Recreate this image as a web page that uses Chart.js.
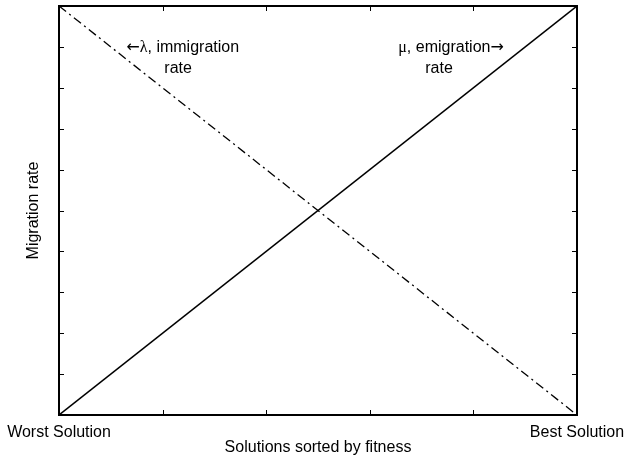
<!DOCTYPE html>
<html>
<head>
<meta charset="utf-8">
<script src="https://cdn.jsdelivr.net/npm/chart.js@4.4.1/dist/chart.umd.min.js"></script>
<style>
  html, body { margin: 0; padding: 0; background: #ffffff; }
  #wrap { width: 626px; height: 456px; }
</style>
</head>
<body>
<div id="wrap"><canvas id="c" width="626" height="456"></canvas></div>
<script>
// Solutions ranked from worst (0) to best (1)
const fitnessRank = [0, 1];
// Emigration rate grows with fitness, immigration rate falls
const emigrationRate = [0, 1];
const immigrationRate = [1, 0];
// Tick positions along each axis
const xTickValues = [0, 0.2, 0.4, 0.6, 0.8, 1];
const yTickValues = [0, 0.1, 0.2, 0.3, 0.4, 0.5, 0.6, 0.7, 0.8, 0.9, 1];
const xTickLabels = { 0: 'Worst Solution', 1: 'Best Solution' };

const FONT = 'Liberation Sans, Arial, Helvetica, sans-serif';
const SYM = 'DejaVu Sans, sans-serif';
const GREEK = 'Liberation Serif, serif';
const SIZE = 16;

// Curve annotations: each line is a run of [text, font family] pieces
const annotations = [
  {
    x: 0.13, y: 0.898, offsets: [0, 38],
    lines: [
      [['\u2190', SYM], ['\u03bb', GREEK], [', immigration', FONT]],
      [['rate', FONT]]
    ]
  },
  {
    x: 0.655, y: 0.898, offsets: [0, 27],
    lines: [
      [['\u03bc', GREEK], [', emigration', FONT], ['\u2192', SYM]],
      [['rate', FONT]]
    ]
  }
];

const toPoints = (ys) => fitnessRank.map((x, i) => ({ x, y: ys[i] }));

// Axes box with inward tick marks on all four sides, plus the curve labels
const frame = {
  id: 'frame',
  afterDatasetsDraw(chart) {
    const { ctx, chartArea: a, scales: { x, y } } = chart;
    const len = 5;
    ctx.save();
    ctx.strokeStyle = '#000';
    ctx.lineWidth = 1;
    ctx.beginPath();
    xTickValues.forEach(v => {
      const px = Math.round(x.getPixelForValue(v)) + 0.5;
      ctx.moveTo(px, a.bottom); ctx.lineTo(px, a.bottom - len);
      ctx.moveTo(px, a.top); ctx.lineTo(px, a.top + len);
    });
    yTickValues.forEach(v => {
      const py = Math.round(y.getPixelForValue(v)) + 0.5;
      ctx.moveTo(a.left, py); ctx.lineTo(a.left + len, py);
      ctx.moveTo(a.right, py); ctx.lineTo(a.right - len, py);
    });
    ctx.stroke();
    ctx.lineWidth = 2;
    ctx.strokeRect(a.left, a.top, a.right - a.left, a.bottom - a.top);

    ctx.fillStyle = '#000';
    ctx.textBaseline = 'middle';
    ctx.textAlign = 'left';
    annotations.forEach(an => {
      const px = x.getPixelForValue(an.x);
      const py = y.getPixelForValue(an.y);
      an.lines.forEach((runs, i) => {
        let cx = px + an.offsets[i];
        runs.forEach(([t, fam]) => {
          ctx.font = SIZE + 'px ' + fam;
          ctx.fillText(t, cx, py + i * 21);
          cx += ctx.measureText(t).width;
        });
      });
    });
    ctx.restore();
  }
};

new Chart(document.getElementById('c'), {
  type: 'line',
  data: {
    datasets: [
      {
        label: '\u03bc, emigration rate',
        data: toPoints(emigrationRate),
        borderColor: '#000',
        borderWidth: 1.5,
        pointRadius: 0,
        tension: 0
      },
      {
        label: '\u03bb, immigration rate',
        data: toPoints(immigrationRate),
        borderColor: '#000',
        borderWidth: 1.3,
        borderDash: [9, 4, 2, 4],
        pointRadius: 0,
        tension: 0
      }
    ]
  },
  options: {
    responsive: false,
    animation: false,
    devicePixelRatio: 1,
    layout: { padding: { top: 6, right: 49, bottom: 0, left: 0 } },
    plugins: { legend: { display: false }, tooltip: { enabled: false } },
    scales: {
      x: {
        type: 'linear',
        min: 0, max: 1,
        afterBuildTicks: (s) => { s.ticks = xTickValues.map(v => ({ value: v })); },
        afterFit: (s) => { s.height = 41; },
        grid: { display: false },
        border: { display: false },
        ticks: {
          autoSkip: false,
          maxRotation: 0,
          padding: 0,
          color: '#000',
          font: { family: FONT, size: SIZE },
          callback: (v) => xTickLabels[v] || ''
        },
        title: {
          display: true,
          text: 'Solutions sorted by fitness',
          color: '#000',
          font: { family: FONT, size: SIZE },
          padding: { top: 0, bottom: -1 }
        }
      },
      y: {
        type: 'linear',
        min: 0, max: 1,
        afterBuildTicks: (s) => { s.ticks = yTickValues.map(v => ({ value: v })); },
        afterFit: (s) => { s.width = 59; },
        grid: { display: false },
        border: { display: false },
        ticks: { display: false },
        title: {
          display: true,
          text: 'Migration rate',
          color: '#000',
          font: { family: FONT, size: SIZE },
          padding: { top: 24, bottom: 0 }
        }
      }
    }
  },
  plugins: [frame]
});
</script>
</body>
</html>
